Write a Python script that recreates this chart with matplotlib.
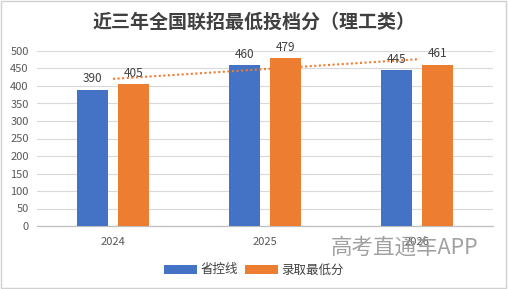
import matplotlib
matplotlib.use("Agg")
import matplotlib.pyplot as plt
import numpy as np
from matplotlib.patches import Rectangle

plt.rcParams['font.family'] = ['Noto Sans CJK SC', 'DejaVu Sans']

years = ["2024", "2025", "2026"]
control_line = [390, 460, 445]
min_score = [405, 479, 461]
series_names = ["省控线", "录取最低分"]
title = "近三年全国联招最低投档分（理工类）"
yticks = list(range(0, 501, 50))

blue = "#4472C4"
orange = "#ED7D31"

fig = plt.figure(figsize=(5.08, 2.89), dpi=100)
ax = fig.add_axes([37/508, 1-226/289, 456/508, 175/289])

x = np.arange(len(years))
w = 0.21
b1 = ax.bar(x - 0.135, control_line, w, color=blue, zorder=3)
b2 = ax.bar(x + 0.135, min_score, w, color=orange, zorder=3)

for rect, v in zip(b1, control_line):
    ax.text(rect.get_x() + rect.get_width()/2, v + 12, str(v), ha='center', va='bottom',
            fontsize=8.5, color='#404040', zorder=5)
for rect, v in zip(b2, min_score):
    ax.text(rect.get_x() + rect.get_width()/2, v + 12, str(v), ha='center', va='bottom',
            fontsize=8.5, color='#404040', zorder=5)

# linear trendline on the orange series
coef = np.polyfit(x, min_score, 1)
ax.plot(x, np.polyval(coef, x), linestyle=(0, (1, 1.2)), color=orange, lw=1.5, zorder=4)

ax.set_xlim(-0.5, 2.5)
ax.set_ylim(0, 500)
ax.set_yticks(yticks)
ax.set_xticks(x)
ax.set_xticklabels(years)
ax.tick_params(axis='both', length=0, labelsize=8, colors='#595959')
ax.tick_params(axis='y', pad=6)
ax.tick_params(axis='x', pad=8)
ax.grid(axis='y', color='#d9d9d9', lw=0.8, zorder=0)
for s in ['top', 'right', 'left']:
    ax.spines[s].set_visible(False)
ax.spines['bottom'].set_color('#bfbfbf')
ax.spines['bottom'].set_linewidth(0.9)
ax.set_axisbelow(True)

fig.text(0.5, 1-22/289, title, ha='center', va='center', fontsize=13.7,
         fontweight='bold', color='#404040')

leg = fig.legend([b1, b2], series_names, loc='center', bbox_to_anchor=(0.5, 1-270/289),
                 ncol=2, frameon=False, fontsize=9, handlelength=2.6, handleheight=0.7,
                 handletextpad=0.3, columnspacing=0.6, labelcolor='#404040')

# watermark
fig.text(405/508, 1-248/289, "高考直通车APP", ha='center', va='center', fontsize=15.5,
         color='#909090', alpha=0.85)

fig.patches.append(Rectangle((0.002, 0.003), 0.995, 0.993, transform=fig.transFigure,
                             fill=False, edgecolor='#d0d0d0', lw=1))

fig.savefig("out.png", dpi=100)
